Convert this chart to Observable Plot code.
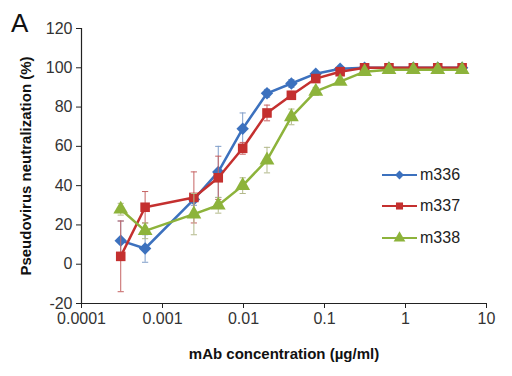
<!DOCTYPE html>
<html><head><meta charset="utf-8">
<script src="https://cdn.jsdelivr.net/npm/d3@7"></script>
<script src="https://cdn.jsdelivr.net/npm/@observablehq/plot@0.6"></script>
<style>
body{margin:0;background:#fff;}
#wrap{position:relative;width:512px;height:376px;font-family:"Liberation Sans",Arial,sans-serif;overflow:hidden;}
#panel{position:absolute;left:11px;top:10px;font-size:26px;line-height:26px;color:#111;}
#legend{position:absolute;left:382px;top:159px;}
.row{display:flex;align-items:center;height:31.5px;font-size:16px;color:#222;}
.row svg{margin-right:2px;}
</style></head><body>
<div id="wrap"><div id="chart"></div><div id="panel">A</div><div id="legend"></div></div>
<script>
// ---- data ----
const conc = [0.000305, 0.00061, 0.00244, 0.00488, 0.00977, 0.0195, 0.039, 0.078, 0.156, 0.3125, 0.625, 1.25, 2.5, 5];
const seriesNames = ["m336", "m337", "m338"];
const m336 = [12, 8, 33, 47, 69, 87, 92, 97, 99.5, 100, 100, 100, 100, 100];
const m336err = [10, 7, 3, 13, 8, 2, 2, 1, 1, 0.5, 0.5, 0.5, 0.5, 0.5];
const m337 = [4, 29, 34, 44, 59, 77, 86, 94.5, 98, 100, 100, 100, 100, 100];
const m337err = [18, 8, 13, 11, 3, 4, 2, 2, 1, 0.5, 0.5, 0.5, 0.5, 0.5];
const m338 = [28, 17, 25.5, 30, 40, 53, 75, 88, 93, 98, 99, 99, 99, 99];
const m338err = [3, 4, 10.5, 4, 4, 6.5, 4, 2, 1, 1, 1, 1, 1, 1];
const xTicks = [0.0001, 0.001, 0.01, 0.1, 1, 10];
const xTickLabels = ["0.0001", "0.001", "0.01", "0.1", "1", "10"];
const yTicks = [-20, 0, 20, 40, 60, 80, 100, 120];
const yTickLabels = ["-20", "0", "20", "40", "60", "80", "100", "120"];
const xTitle = "mAb concentration (µg/ml)";
const yTitle = "Pseudovirus neutralization (%)";

// ---- styles ----
const colors = ["#3C71BE", "#C4302F", "#8DB33B"];
const errColors = ["#7F9DC9", "#C66464", "#B3B98A"];
const symbols = ["diamond2", "square", "triangle"];
const sizes = [5.6, 5.4, 5.5];

const values = [m336, m337, m338];
const errs = [m336err, m337err, m338err];
const rows = [];
seriesNames.forEach((s, i) => conc.forEach((c, j) => rows.push({series: s, conc: c, value: values[i][j], err: errs[i][j]})));

const cap = {draw(ctx, size) { const r = Math.sqrt(size) / 2; ctx.moveTo(-r, 0); ctx.lineTo(r, 0); }};

const marks = [
  Plot.axisX(xTicks, {tickSize: 5, tickPadding: 4, tickFormat: d => xTickLabels[xTicks.indexOf(d)], stroke: "#222", fill: "#333", fontSize: 16, label: null}),
  Plot.axisY(yTicks, {tickSize: 5, tickPadding: 4, tickFormat: d => yTickLabels[yTicks.indexOf(d)], stroke: "#222", fill: "#333", fontSize: 16, label: null}),
  Plot.ruleX([xTicks[0]], {stroke: "#222", strokeWidth: 1.2}),
  Plot.ruleY([yTicks[0]], {stroke: "#222", strokeWidth: 1.2}),
  Plot.text([xTitle], {frameAnchor: "bottom", dy: 51, lineAnchor: "middle", textAnchor: "middle", fontWeight: "bold", fontSize: 15, fill: "#111"}),
  Plot.text([yTitle], {frameAnchor: "left", dx: -55, rotate: -90, textAnchor: "middle", lineAnchor: "middle", fontWeight: "bold", fontSize: 15, fill: "#111"})
];
seriesNames.forEach((s, i) => {
  const d = rows.filter(r => r.series === s);
  marks.push(Plot.ruleX(d, {x: "conc", y1: r => r.value - r.err, y2: r => r.value + r.err, stroke: errColors[i], strokeWidth: 1}));
  marks.push(Plot.dot(d, {x: "conc", y: r => r.value + r.err, symbol: cap, r: 3.5, stroke: errColors[i], strokeWidth: 1}));
  marks.push(Plot.dot(d, {x: "conc", y: r => r.value - r.err, symbol: cap, r: 3.5, stroke: errColors[i], strokeWidth: 1}));
  marks.push(Plot.line(d, {x: "conc", y: "value", stroke: colors[i], strokeWidth: 2.5}));
  marks.push(Plot.dot(d, {x: "conc", y: "value", symbol: symbols[i], r: sizes[i], fill: colors[i], stroke: "none"}));
});

const chart = Plot.plot({
  width: 512, height: 376,
  marginLeft: 81, marginRight: 26, marginTop: 28, marginBottom: 73,
  style: {fontFamily: "Liberation Sans, Arial, sans-serif", fontSize: "16px", background: "#fff", color: "#333"},
  x: {type: "log", domain: [xTicks[0], xTicks[xTicks.length - 1]]},
  y: {domain: [yTicks[0], yTicks[yTicks.length - 1]]},
  marks
});
document.getElementById("chart").appendChild(chart);

// legend
const legend = document.getElementById("legend");
const legendSym = [d3.symbolDiamond2, d3.symbolSquare, d3.symbolTriangle];
const legendSize = [50, 50, 60];
seriesNames.forEach((s, i) => {
  const row = document.createElement("div");
  row.className = "row";
  const svg = d3.create("svg").attr("width", 36).attr("height", 14);
  svg.append("line").attr("x1", 0).attr("x2", 35).attr("y1", 7).attr("y2", 7).attr("stroke", colors[i]).attr("stroke-width", 2.2);
  svg.append("path").attr("transform", "translate(17.5,7)").attr("d", d3.symbol(legendSym[i], legendSize[i])()).attr("fill", colors[i]);
  row.appendChild(svg.node());
  const t = document.createElement("span");
  t.textContent = s;
  row.appendChild(t);
  legend.appendChild(row);
});
</script>
</body></html>
